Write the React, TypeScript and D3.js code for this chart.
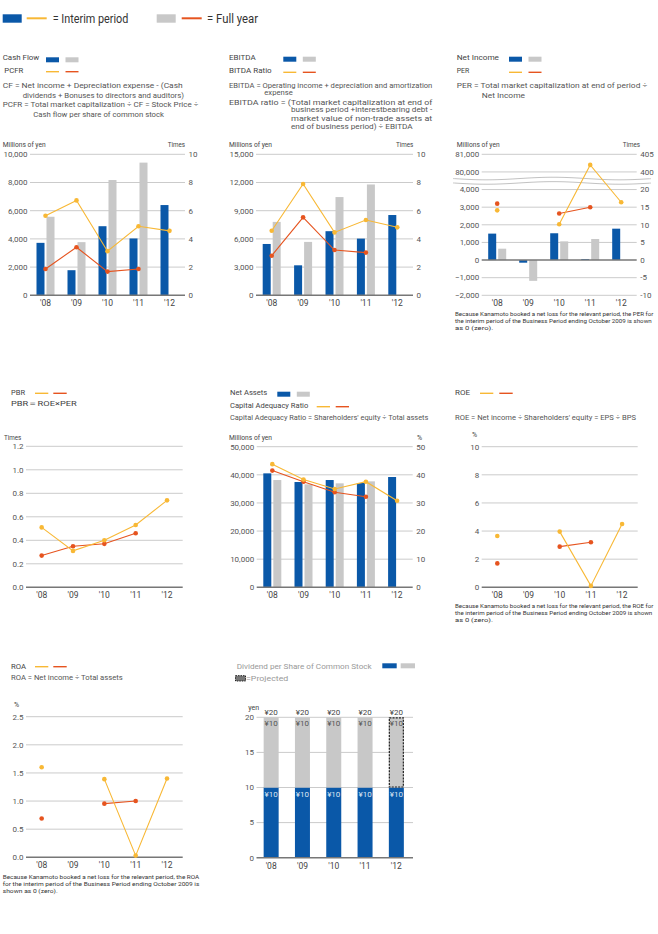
import React from "react";
import * as d3 from "d3";

// ---------- data ----------
const categories = ["'08", "'09", "'10", "'11", "'12"];

const cashFlowInterim = [3720, 1780, 4900, 4030, 6400];
const cashFlowFull = [5570, 3770, 8175, 9410, null];
const pcfrInterim = [5.64, 6.73, 3.13, 4.9, 4.57];
const pcfrFull = [1.87, 3.41, 1.68, 1.87, null];

const ebitdaInterim = [5460, 3190, 6820, 6030, 8540];
const ebitdaFull = [7810, 5680, 10450, 11790, null];
const ebitdaRatioInterim = [4.58, 7.89, 4.46, 5.34, 4.82];
const ebitdaRatioFull = [2.81, 5.53, 3.21, 3.03, null];

const netIncomeInterim = [1500, -150, 1520, 50, 1780];
const netIncomeFull = [645, -1180, 1060, 1195, null];
const perInterim = [14.1, null, 10.15, 402, 16.4];
const perFull = [16.0, null, 13.2, 15.0, null];

const pbrInterim = [0.51, 0.31, 0.4, 0.53, 0.74];
const pbrFull = [0.27, 0.35, 0.37, 0.46, null];

const netAssetsInterim = [40520, 37440, 38150, 37090, 39220];
const netAssetsFull = [38150, 36610, 36970, 37680, null];
const carInterim = [43.8, 38.3, 34.95, 37.56, 30.8];
const carFull = [41.5, 37.56, 33.8, 32.2, null];

const roeInterim = [3.65, null, 3.96, 0.1, 4.5];
const roeFull = [1.7, null, 2.89, 3.2, null];

const roaInterim = [1.6, null, 1.39, 0.03, 1.4];
const roaFull = [0.69, null, 0.954, 1.0, null];

const dividendInterim = [10, 10, 10, 10, 10];
const dividendYearEnd = [10, 10, 10, 10, 10];
const dividendProjected = [false, false, false, false, true];

const cashTicks = [0, 2000, 4000, 6000, 8000, 10000];
const timesTicks10 = [0, 2, 4, 6, 8, 10];
const ebitdaTicks = [0, 3000, 6000, 9000, 12000, 15000];
const niTicks = [-2000, -1000, 0, 1000, 2000, 3000, 4000, 80000, 81000];
const perTicks = [-10, -5, 0, 5, 10, 15, 20, 400, 405];
const pbrTicks = [0, 0.2, 0.4, 0.6, 0.8, 1.0, 1.2];
const naTicks = [0, 10000, 20000, 30000, 40000, 50000];
const carTicks = [0, 10, 20, 30, 40, 50];
const roeTicks = [0, 2, 4, 6, 8, 10];
const roaTicks = [0, 0.5, 1.0, 1.5, 2.0, 2.5];
const divTicks = [0, 5, 10, 15, 20];

// ---------- style ----------
const BLUE = "#0a58a8";
const GRAY = "#c8c8c8";
const YELLOW = "#f8b835";
const ORANGE = "#e6541f";
const FONT = "Roboto, 'Liberation Sans', sans-serif";
const TXT = "#444";
const TXT2 = "#555";
const GRID = "#cbcbcb";
const BASE = "#777";

type Series = (number | null)[];

interface PanelProps {
  x0: number; x1: number; y0: number; y1: number;
  yL: any; leftTicks: number[]; leftFmt: (v: number) => string;
  yR?: any; rightTicks?: number[]; rightFmt?: (v: number) => string;
  zero?: number;
  blue?: Series; gray?: Series;
  lineScale?: any; interim?: Series; full?: Series;
  children?: React.ReactNode;
}

function Panel(p: PanelProps) {
  const x = d3.scaleBand<string>().domain(categories).range([p.x0, p.x1]);
  const cx = (i: number) => (x(categories[i]) as number) + x.bandwidth() / 2;
  const zero = p.zero ?? p.leftTicks[0];
  const y0v = p.yL(zero);
  const line = (s: Series) =>
    d3.line<number | null>()
      .defined((d) => d != null)
      .x((_, i) => cx(i))
      .y((d) => p.lineScale(d as number))(s) || "";
  const bar = (v: number | null, i: number, off: number, color: string, key: string) => {
    if (v == null) return null;
    const yy = p.yL(v);
    return (
      <rect key={key} x={cx(i) + off} y={Math.min(yy, y0v)} width={8}
        height={Math.max(0.8, Math.abs(yy - y0v))} fill={color} />
    );
  };
  return (
    <g>
      {p.leftTicks.map((t) => (
        <g key={"l" + t}>
          {t !== zero && (
            <line x1={p.x0} x2={p.x1} y1={p.yL(t)} y2={p.yL(t)} stroke={GRID} strokeWidth={1} />
          )}
          <text x={p.x0 - 2.5} y={p.yL(t)} dy="0.35em" textAnchor="end" fontSize={8} fill={TXT2}>
            {p.leftFmt(t)}
          </text>
        </g>
      ))}
      {p.yR && p.rightTicks && p.rightTicks.map((t) => (
        <text key={"r" + t} x={p.x1 + 3.5} y={p.yR(t)} dy="0.35em" fontSize={8} fill={TXT2}>
          {p.rightFmt ? p.rightFmt(t) : String(t)}
        </text>
      ))}
      {p.children}
      {p.blue && p.blue.map((v, i) => bar(v, i, -9, BLUE, "b" + i))}
      {p.gray && p.gray.map((v, i) => bar(v, i, 1, GRAY, "g" + i))}
      <line x1={p.x0} x2={p.x1} y1={y0v} y2={y0v} stroke={BASE} strokeWidth={1.4} />
      {p.full && <path d={line(p.full)} fill="none" stroke={ORANGE} strokeWidth={1.1} />}
      {p.interim && <path d={line(p.interim)} fill="none" stroke={YELLOW} strokeWidth={1.1} />}
      {p.full && p.full.map((v, i) => v == null ? null : (
        <circle key={"fo" + i} cx={cx(i)} cy={p.lineScale(v)} r={2.3} fill={ORANGE} />
      ))}
      {p.interim && p.interim.map((v, i) => v == null ? null : (
        <circle key={"io" + i} cx={cx(i)} cy={p.lineScale(v)} r={2.3} fill={YELLOW} />
      ))}
      {categories.map((c, i) => (
        <text key={"c" + c} x={cx(i)} y={p.y1 + 11} textAnchor="middle" fontSize={8.5} fill={TXT}>
          {c}
        </text>
      ))}
    </g>
  );
}

const fmtComma = d3.format(",");
const fmt1 = d3.format(".1f");
const fmtInt = (v: number) => String(v);

function LegendRects({ x, y }: { x: number; y: number }) {
  return (
    <g>
      <rect x={x} y={y} width={13} height={5} fill={BLUE} />
      <rect x={x + 19.5} y={y} width={13} height={5} fill={GRAY} />
    </g>
  );
}
function LegendLines({ x, y }: { x: number; y: number }) {
  return (
    <g>
      <line x1={x} x2={x + 13} y1={y} y2={y} stroke={YELLOW} strokeWidth={1.4} />
      <line x1={x + 19.5} x2={x + 32.5} y1={y} y2={y} stroke={ORANGE} strokeWidth={1.4} />
    </g>
  );
}

function T(props: { x: number; y: number; w?: number; size?: number; fill?: string; children: React.ReactNode; ls?: number }) {
  return (
    <text x={props.x} y={props.y} fontSize={props.size ?? 8} fill={props.fill ?? TXT}
      letterSpacing={props.ls}
      {...(props.w ? { textLength: props.w, lengthAdjust: "spacingAndGlyphs" } : {})}>
      {props.children}
    </text>
  );
}

export default function App() {
  // Panel 1: Cash flow
  const p1 = { x0: 30, x1: 185, y0: 154.3, y1: 295.3 };
  const cfL = d3.scaleLinear().domain([0, 10000]).range([p1.y1, p1.y0]);
  const cfR = d3.scaleLinear().domain([0, 10]).range([p1.y1, p1.y0]);

  // Panel 2: EBITDA
  const p2 = { x0: 256, x1: 413, y0: 154.3, y1: 295.3 };
  const ebL = d3.scaleLinear().domain([0, 15000]).range([p2.y1, p2.y0]);
  const ebR = d3.scaleLinear().domain([0, 10]).range([p2.y1, p2.y0]);

  // Panel 3: Net income (broken axis)
  const p3 = { x0: 481.7, x1: 636.7, y0: 154.3, y1: 295.3 };
  const st = (p3.y1 - p3.y0) / 8;
  const niRange = [p3.y1, p3.y1 - 6 * st, p3.y1 - 7 * st, p3.y0];
  const niL = d3.scaleLinear().domain([-2000, 4000, 80000, 81000]).range(niRange);
  const niR = d3.scaleLinear().domain([-10, 20, 400, 405]).range(niRange);

  // Panel 4: PBR
  const p4 = { x0: 26, x1: 182.7, y0: 446.3, y1: 587.3 };
  const pbrL = d3.scaleLinear().domain([0, 1.2]).range([p4.y1, p4.y0]);

  // Panel 5: Net assets
  const p5 = { x0: 256.7, x1: 412.7, y0: 446.7, y1: 587.3 };
  const naL = d3.scaleLinear().domain([0, 50000]).range([p5.y1, p5.y0]);
  const naR = d3.scaleLinear().domain([0, 50]).range([p5.y1, p5.y0]);

  // Panel 6: ROE
  const p6 = { x0: 481.7, x1: 637.7, y0: 446.7, y1: 587.3 };
  const roeL = d3.scaleLinear().domain([0, 10]).range([p6.y1, p6.y0]);

  // Panel 7: ROA
  const p7 = { x0: 26, x1: 182.7, y0: 716.7, y1: 857.3 };
  const roaL = d3.scaleLinear().domain([0, 2.5]).range([p7.y1, p7.y0]);

  // Panel 8: Dividend
  const p8 = { x0: 256.5, x1: 413, y0: 717.3, y1: 857.7 };
  const divL = d3.scaleLinear().domain([0, 20]).range([p8.y1, p8.y0]);
  const divX = d3.scaleBand<string>().domain(categories).range([255.5, 412]);

  // wavy break for net income
  const waveXs = d3.range(453, 654, 3);
  const wave = (base: number) =>
    d3.line<number>().x((d) => d).y((d) => base + 1.3 * Math.sin(((d - 453) / 200) * Math.PI * 3))
      .curve(d3.curveBasis)(waveXs) || "";
  const breakY = (niL(4000) + niL(80000)) / 2;

  const footNote = (x: number, y: number, lines: string[], widths: number[]) => (
    <g>
      {lines.map((l, i) => (
        <T key={i} x={x} y={y + i * 7.2} size={5.8} w={widths[i]} fill="#333">{l}</T>
      ))}
    </g>
  );

  return (
    <div style={{ position: "absolute", left: 0, top: 0 }}>
      <svg width={658} height={934} style={{ display: "block", fontFamily: FONT }}>
        <rect width={658} height={934} fill="#fff" />
        {/* top legend */}
        <rect x={2.7} y={14.3} width={19} height={8.4} fill={BLUE} />
        <line x1={26.7} x2={46.7} y1={18.3} y2={18.3} stroke={YELLOW} strokeWidth={2} />
        <T x={52.7} y={22.6} size={12} w={75.7} fill="#333">= Interim period</T>
        <rect x={156.7} y={14.3} width={19} height={8.4} fill={GRAY} />
        <line x1={181.7} x2={201.7} y1={18.3} y2={18.3} stroke={ORANGE} strokeWidth={2} />
        <T x={207} y={22.6} size={12} w={51} fill="#333">= Full year</T>

        {/* ---- Panel 1 header ---- */}
        <T x={2.7} y={60.3} w={36.6}>Cash Flow</T>
        <LegendRects x={46} y={57.3} />
        <T x={4.3} y={73} w={19}>PCFR</T>
        <LegendLines x={46} y={71.7} />
        <T x={2.7} y={88} fill={TXT2} w={180}>CF = Net income + Depreciation expense - (Cash</T>
        <T x={22.7} y={98} fill={TXT2} w={161.3}>dividends + Bonuses to directors and auditors)</T>
        <T x={2.7} y={107.3} fill={TXT2} w={195.6}>PCFR = Total market capitalization ÷ CF = Stock Price ÷</T>
        <T x={33.3} y={117} fill={TXT2} w={130.7}>Cash flow per share of common stock</T>
        <T x={2.7} y={147} size={7} w={43}>Millions of yen</T>
        <T x={167.7} y={147} size={7} w={17.3}>Times</T>
        <Panel {...p1} yL={cfL} leftTicks={cashTicks} leftFmt={fmtComma}
          yR={cfR} rightTicks={timesTicks10} rightFmt={fmtInt}
          blue={cashFlowInterim} gray={cashFlowFull} lineScale={cfR}
          interim={pcfrInterim} full={pcfrFull} />

        {/* ---- Panel 2 header ---- */}
        <T x={229} y={60.3} w={26.7}>EBITDA</T>
        <LegendRects x={283.3} y={56.7} />
        <T x={229} y={73} w={42.7}>BITDA Ratio</T>
        <LegendLines x={283.3} y={72.3} />
        <T x={229} y={88} fill={TXT2} w={203.3}>EBITDA = Operating income + depreciation and amortization</T>
        <T x={264.3} y={95.2} fill={TXT2} w={28.4}>expense</T>
        <T x={229} y={104.7} fill={TXT2} w={203.3}>EBITDA ratio = (Total market capitalization at end of</T>
        <T x={291} y={112.3} fill={TXT2} w={141.3}>business period +interestbearing debt -</T>
        <T x={291} y={121.3} fill={TXT2} w={141.3}>market value of non-trade assets at</T>
        <T x={291} y={129} fill={TXT2} w={121.7}>end of business period) ÷ EBITDA</T>
        <T x={229} y={147} size={7} w={43}>Millions of yen</T>
        <T x={396} y={147} size={7} w={17.3}>Times</T>
        <Panel {...p2} yL={ebL} leftTicks={ebitdaTicks} leftFmt={fmtComma}
          yR={ebR} rightTicks={timesTicks10} rightFmt={fmtInt}
          blue={ebitdaInterim} gray={ebitdaFull} lineScale={ebR}
          interim={ebitdaRatioInterim} full={ebitdaRatioFull} />

        {/* ---- Panel 3 header ---- */}
        <T x={456.7} y={60.3} w={42.3}>Net Income</T>
        <LegendRects x={509} y={56.7} />
        <T x={456.7} y={73} w={12.6}>PER</T>
        <LegendLines x={509} y={72.3} />
        <T x={456.7} y={88} fill={TXT2} w={190.6}>PER = Total market capitalization at end of period ÷</T>
        <T x={481.7} y={98} fill={TXT2} w={43.3}>Net Income</T>
        <T x={456.7} y={147} size={7} w={43}>Millions of yen</T>
        <T x={622.7} y={147} size={7} w={17.3}>Times</T>
        <Panel {...p3} yL={niL} leftTicks={niTicks} leftFmt={fmtComma} zero={0}
          yR={niR} rightTicks={perTicks} rightFmt={fmtInt}
          blue={netIncomeInterim} gray={netIncomeFull} lineScale={niR}
          interim={perInterim} full={perFull}>
          <rect x={453} y={breakY - 2.2} width={200} height={4.4} fill="#fff" />
          <path d={wave(breakY - 2.2)} fill="none" stroke="#bbb" strokeWidth={0.9} />
          <path d={wave(breakY + 2.2)} fill="none" stroke="#bbb" strokeWidth={0.9} />
        </Panel>
        {footNote(455, 316, [
          "Because Kanamoto booked a net loss for the relevant period, the PER for",
          "the interim period of the Business Period ending October 2009 is shown",
          "as 0 (zero).",
        ], [198.3, 196.7, 38.3])}

        {/* ---- Panel 4: PBR ---- */}
        <T x={11} y={395.3} w={14}>PBR</T>
        <line x1={35} x2={48.3} y1={393.3} y2={393.3} stroke={YELLOW} strokeWidth={1.4} />
        <line x1={53.3} x2={66.7} y1={393.3} y2={393.3} stroke={ORANGE} strokeWidth={1.4} />
        <T x={11} y={406.3} w={65.7}>PBR＝ROE×PER</T>
        <T x={4} y={439.5} size={7} w={17.3}>Times</T>
        <Panel {...p4} yL={pbrL} leftTicks={pbrTicks} leftFmt={fmt1}
          lineScale={pbrL} interim={pbrInterim} full={pbrFull} />

        {/* ---- Panel 5: Net assets ---- */}
        <T x={230} y={395.3} w={37.3}>Net Assets</T>
        <LegendRects x={277.3} y={391.7} />
        <T x={230} y={408} w={78.3}>Capital Adequacy Ratio</T>
        <line x1={316.7} x2={330} y1={406.7} y2={406.7} stroke={YELLOW} strokeWidth={1.4} />
        <line x1={335.7} x2={349} y1={406.7} y2={406.7} stroke={ORANGE} strokeWidth={1.4} />
        <T x={230} y={420.3} fill={TXT2} w={198.3}>Capital Adequacy Ratio = Shareholders' equity ÷ Total assets</T>
        <T x={229} y={439.5} size={7} w={43}>Millions of yen</T>
        <T x={417} y={439.5} size={7}>%</T>
        <Panel {...p5} yL={naL} leftTicks={naTicks} leftFmt={fmtComma}
          yR={naR} rightTicks={carTicks} rightFmt={fmtInt}
          blue={netAssetsInterim} gray={netAssetsFull} lineScale={naR}
          interim={carInterim} full={carFull} />

        {/* ---- Panel 6: ROE ---- */}
        <T x={455} y={395.3} w={15}>ROE</T>
        <line x1={480} x2={493.3} y1={393.3} y2={393.3} stroke={YELLOW} strokeWidth={1.4} />
        <line x1={499.3} x2={512.7} y1={393.3} y2={393.3} stroke={ORANGE} strokeWidth={1.4} />
        <T x={455} y={420.3} fill={TXT2} w={181}>ROE = Net income ÷ Shareholders' equity = EPS ÷ BPS</T>
        <T x={472} y={436.5} size={7}>%</T>
        <Panel {...p6} yL={roeL} leftTicks={roeTicks} leftFmt={fmtInt}
          lineScale={roeL} interim={roeInterim} full={roeFull} />
        {footNote(455, 607.8, [
          "Because Kanamoto booked a net loss for the relevant period, the ROE for",
          "the interim period of the Business Period ending October 2009 is shown",
          "as 0 (zero).",
        ], [198.3, 197.3, 38])}

        {/* ---- Panel 7: ROA ---- */}
        <T x={11} y={668.7} w={15}>ROA</T>
        <line x1={35} x2={48.3} y1={666.7} y2={666.7} stroke={YELLOW} strokeWidth={1.4} />
        <line x1={53.3} x2={66.7} y1={666.7} y2={666.7} stroke={ORANGE} strokeWidth={1.4} />
        <T x={11} y={679.7} fill={TXT2} w={111.7}>ROA = Net income ÷ Total assets</T>
        <T x={14} y={706.5} size={7}>%</T>
        <Panel {...p7} yL={roaL} leftTicks={roaTicks} leftFmt={fmt1}
          lineScale={roaL} interim={roaInterim} full={roaFull} />
        {footNote(2.7, 879, [
          "Because Kanamoto booked a net loss for the relevant period, the ROA",
          "for the interim period of the Business Period ending October 2009 is",
          "shown as 0 (zero).",
        ], [196.6, 196.6, 55])}

        {/* ---- Panel 8: Dividend ---- */}
        <T x={236.7} y={669} fill="#999" w={135}>Dividend per Share of Common Stock</T>
        <rect x={382.3} y={663.3} width={14.4} height={5} fill={BLUE} />
        <rect x={400.7} y={663.3} width={14.3} height={5} fill={GRAY} />
        <rect x={235.5} y={675.7} width={10} height={5.3} fill="#777" stroke="#222" strokeWidth={1} strokeDasharray="1.5,1" />
        <T x={246} y={681} fill="#999" w={42.3}>=Projected</T>
        <T x={248.3} y={709.5} size={7}>yen</T>
        <g>
          {divTicks.map((t) => (
            <g key={t}>
              {t !== 0 && <line x1={p8.x0} x2={p8.x1} y1={divL(t)} y2={divL(t)} stroke={GRID} />}
              <text x={p8.x0 - 2.5} y={divL(t)} dy="0.35em" textAnchor="end" fontSize={8} fill={TXT2}>{t}</text>
            </g>
          ))}
          {categories.map((c, i) => {
            const cx = (divX(c) as number) + divX.bandwidth() / 2;
            const a = dividendInterim[i];
            const b = dividendYearEnd[i];
            const w = 15;
            return (
              <g key={c}>
                <rect x={cx - w / 2} y={divL(a)} width={w} height={divL(0) - divL(a)} fill={BLUE} />
                <rect x={cx - w / 2} y={divL(a + b)} width={w} height={divL(a) - divL(a + b)} fill={GRAY} />
                {dividendProjected[i] && (
                  <rect x={cx - w / 2 + 0.5} y={divL(a + b) + 0.5} width={w - 1} height={divL(a) - divL(a + b) - 1}
                    fill="none" stroke="#222" strokeWidth={1.2} strokeDasharray="2,1.2" />
                )}
                <text x={cx} y={divL(a) + 9} textAnchor="middle" fontSize={8} fill="#dde6f2">¥{a}</text>
                <text x={cx} y={divL(a + b) + 9} textAnchor="middle" fontSize={8} fill="#555">¥{b}</text>
                <text x={cx} y={divL(a + b) - 2.5} textAnchor="middle" fontSize={8} fill={TXT}>¥{a + b}</text>
                <text x={cx} y={p8.y1 + 11} textAnchor="middle" fontSize={8.5} fill={TXT}>{c}</text>
              </g>
            );
          })}
          <line x1={p8.x0} x2={p8.x1} y1={divL(0)} y2={divL(0)} stroke={BASE} strokeWidth={1.4} />
        </g>
      </svg>
    </div>
  );
}
